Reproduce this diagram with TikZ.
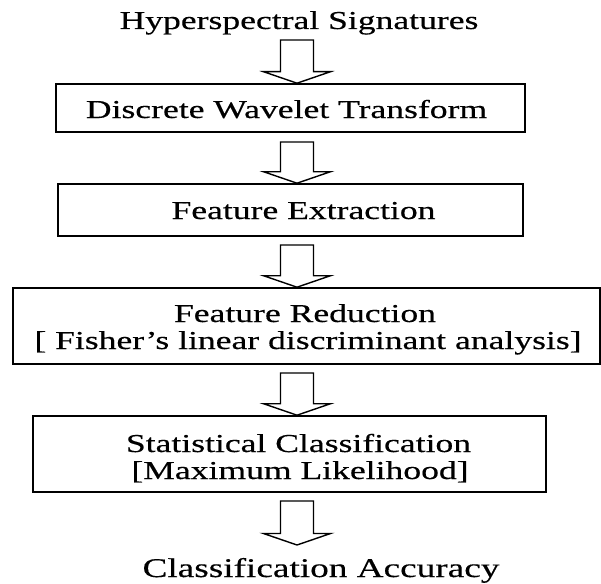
\documentclass[tikz,border=0pt]{standalone}
\usepackage{fontspec}
\newfontfamily\diagfont[FakeStretch=1.38,FakeBold=0.4]{Liberation Serif}
\usetikzlibrary{calc}

% hollow block arrow from a start point down to an end point
\newcommand\hollowarrow[2]{%
  \draw[flow] let \p1=(#1), \p2=(#2) in
    (\x1-16.5pt,\y1) -- (\x1+16.5pt,\y1) -- (\x1+16.5pt,\y2+11.5pt)
    -- (\x1+33.5pt,\y2+11.5pt) -- (\x1,\y2) -- (\x1-33.5pt,\y2+11.5pt)
    -- (\x1-16.5pt,\y2+11.5pt) -- cycle;}

\begin{document}
\begin{tikzpicture}[x=1pt,y=-1pt,
  stage/.style={draw, line width=1.6pt, rectangle, inner sep=0pt},
  lbl/.style={anchor=base, inner sep=0pt, font=\diagfont\fontsize{25.8}{27}\selectfont},
  biglbl/.style={lbl, font=\diagfont\fontsize{27}{29}\selectfont},
  flow/.style={line width=1.4pt, line join=miter}]
\useasboundingbox (0,0) rectangle (601,583);

% input and output
\node[lbl] (src) at (299,29) {Hyperspectral Signatures};
\node[biglbl] (out) at (321,577) {Classification Accuracy};

% processing stages
\node[stage, minimum width=469pt, minimum height=48pt] (b1) at (290.5,108) {};
\node[stage, minimum width=465pt, minimum height=52pt] (b2) at (290.5,210) {};
\node[stage, minimum width=587pt, minimum height=76pt] (b3) at (306.5,326) {};
\node[stage, minimum width=513pt, minimum height=76pt] (b4) at (289.5,454) {};

\node[lbl] (t1) at (286.5,118) {Discrete Wavelet Transform};
\node[lbl] (t2) at (303.5,219) {Feature Extraction};
\node[lbl] (t3a) at (305,322) {Feature Reduction};
\node[lbl] (t3b) at (308,349) {[ Fisher’s linear discriminant analysis]};
\node[lbl] (t4a) at (298.5,452) {Statistical Classification};
\node[lbl] (t4b) at (300,479) {[Maximum Likelihood]};

% arrow start points and the free end of the last arrow
\coordinate (s1) at (297,40);
\coordinate (s2) at (297,142);
\coordinate (s3) at (297,245);
\coordinate (s4) at (297,373);
\coordinate (s5) at (297,501);
\coordinate (e5) at (297,545);

\hollowarrow{s1}{s1 |- b1.north}
\hollowarrow{s2}{s2 |- b2.north}
\hollowarrow{s3}{s3 |- b3.north}
\hollowarrow{s4}{s4 |- b4.north}
\hollowarrow{s5}{e5}
\end{tikzpicture}
\end{document}
